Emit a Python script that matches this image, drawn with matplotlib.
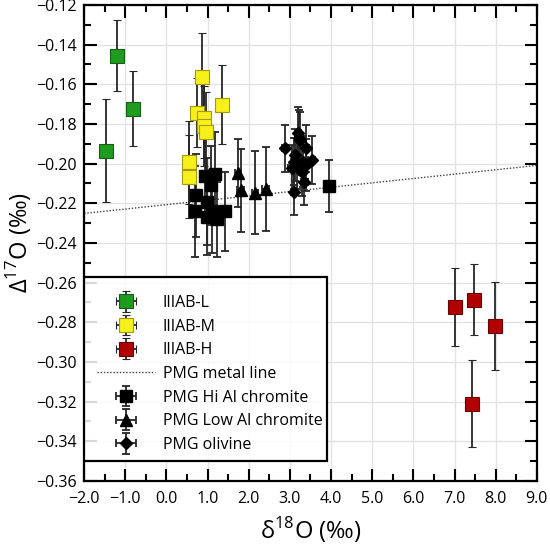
import matplotlib
matplotlib.use("Agg")
import matplotlib.pyplot as plt
from matplotlib.ticker import MultipleLocator, FuncFormatter
from matplotlib.legend_handler import HandlerErrorbar
from matplotlib.patches import Rectangle
import numpy as np

plt.rcParams['font.family'] = ['Open Sans', 'DejaVu Sans']
plt.rcParams['axes.unicode_minus'] = True

# IIIAB-L
L_x = [-1.47, -1.19, -0.81]
L_y = [-0.1935, -0.1456, -0.1723]
L_err = [0.026, 0.018, 0.019]

# IIIAB-M
M_x = [0.87, 1.36, 0.74, 0.91, 0.91, 0.95, 0.56, 0.56]
M_y = [-0.1562, -0.1703, -0.1743, -0.1772, -0.1810, -0.1839, -0.1993, -0.2066]
M_err = [0.022, 0.020, 0.0175, 0.020, 0.020, 0.020, 0.021, 0.021]

# IIIAB-H
H_x = [7.02, 7.47, 7.99, 7.42]
H_y = [-0.2723, -0.2686, -0.2819, -0.3211]
H_err = [0.0195, 0.018, 0.022, 0.022]

# PMG Hi Al chromite
HiAl_x = [0.71, 0.70, 0.94, 1.18, 1.08, 0.98, 0.99, 1.10, 1.24, 1.42, 3.96]
HiAl_y = [-0.2160, -0.2240, -0.2061, -0.2052, -0.2110, -0.2192, -0.2270, -0.2240, -0.2281, -0.2240, -0.2113]
HiAl_err = [0.021, 0.023, 0.021, 0.021, 0.020, 0.022, 0.019, 0.021, 0.019, 0.020, 0.013]

# PMG Low Al chromite
LoAl_x = [1.74, 1.80, 2.15, 2.41]
LoAl_y = [-0.2047, -0.2135, -0.2146, -0.2128]
LoAl_err = [0.017, 0.021, 0.021, 0.021]

# PMG olivine
Ol_x = [2.88, 3.20, 3.25, 3.39, 3.12, 3.10, 3.33, 3.53, 3.04, 3.39, 3.29, 3.35, 3.10, 3.22, 3.18]
Ol_y = [-0.1923, -0.1847, -0.1881, -0.1923, -0.1956, -0.1990, -0.1990, -0.1982, -0.2024,
        -0.2007, -0.2041, -0.2091, -0.2141, -0.1870, -0.2000]
Ol_err = [0.012, 0.013, 0.014, 0.012, 0.013, 0.012, 0.013, 0.012, 0.012,
          0.013, 0.012, 0.012, 0.012, 0.014, 0.013]

# PMG metal line
line_slope = 0.0022
line_intercept = -0.2207

X_ERR = 0.08

fig = plt.figure(figsize=(5.5, 5.5), dpi=100)
ax = fig.add_axes([0.153, 0.1255, 0.823, 0.8655])

ax.set_xlim(-2.0, 9.0)
ax.set_ylim(-0.36, -0.12)

ekw = dict(ecolor='#262626', elinewidth=1.3, capsize=3, capthick=1.3, linestyle='none')

line_xs = np.array(ax.get_xlim())
ln, = ax.plot(line_xs, line_intercept + line_slope * line_xs, linestyle=(0, (1, 1.3)),
              color='#444444', lw=1.0, zorder=2, label='PMG metal line')

hL = ax.errorbar(L_x, L_y, yerr=L_err, xerr=X_ERR, marker='s', ms=9.5, mfc='#1f9b1f', mec='#136013',
                 mew=0.8, label='IIIAB-L', zorder=3, **ekw)
hM = ax.errorbar(M_x, M_y, yerr=M_err, xerr=X_ERR, marker='s', ms=9.5, mfc='#f7f01a', mec='#a39a10',
                 mew=0.8, label='IIIAB-M', zorder=3, **ekw)
hH = ax.errorbar(H_x, H_y, yerr=H_err, xerr=X_ERR, marker='s', ms=9.5, mfc='#b00000', mec='#6a0000',
                 mew=0.8, label='IIIAB-H', zorder=3, **ekw)
hHi = ax.errorbar(HiAl_x, HiAl_y, yerr=HiAl_err, xerr=X_ERR, marker='s', ms=9, mfc='black', mec='black',
                  label='PMG Hi Al chromite', zorder=3, **ekw)
hLo = ax.errorbar(LoAl_x, LoAl_y, yerr=LoAl_err, xerr=X_ERR, marker='^', ms=8, mfc='black', mec='black',
                  label='PMG Low Al chromite', zorder=3, **ekw)
hOl = ax.errorbar(Ol_x, Ol_y, yerr=Ol_err, xerr=X_ERR, marker='D', ms=6.5, mfc='black', mec='black',
                  label='PMG olivine', zorder=3, **ekw)

ax.xaxis.set_major_locator(MultipleLocator(1.0))
ax.xaxis.set_minor_locator(MultipleLocator(0.5))
ax.yaxis.set_major_locator(MultipleLocator(0.02))
ax.yaxis.set_minor_locator(MultipleLocator(0.01))
ax.xaxis.set_major_formatter(FuncFormatter(lambda v, p: ('%.1f' % v).replace('-', '\u2212')))
ax.yaxis.set_major_formatter(FuncFormatter(lambda v, p: ('%.2f' % v).replace('-', '\u2212')))

ax.tick_params(which='both', direction='in', top=True, right=True, width=1.5, labelsize=11.5)
ax.tick_params(which='major', length=9)
ax.tick_params(which='minor', length=5)
ax.tick_params(axis='x', which='major', pad=7)
ax.tick_params(axis='y', which='major', pad=5)
for s in ax.spines.values():
    s.set_linewidth(1.6)

ax.grid(True, which='major', color='#e3e3e3', lw=1.0, zorder=0)
ax.set_axisbelow(True)

ax.set_xlabel('δ$^{\\mathregular{18}}$O (‰)', fontsize=17)
ax.set_ylabel('Δ$^{\\mathregular{17}}$O (‰)', fontsize=17)
ax.xaxis.set_label_coords(0.5, -0.072)
ax.yaxis.set_label_coords(-0.11, 0.5)

# legend box drawn as its own frame
frame = Rectangle((0.0, 0.042), 0.536, 0.3866, transform=ax.transAxes, facecolor='white',
                  alpha=0.85, edgecolor='none', zorder=4.5)
ax.add_patch(frame)
frame_edge = Rectangle((0.0, 0.042), 0.536, 0.3866, transform=ax.transAxes, facecolor='none',
                       edgecolor='black', lw=1.6, zorder=4.6)
ax.add_patch(frame_edge)

handles = [hL, hM, hH, ln, hHi, hLo, hOl]
labels = [h.get_label() for h in handles]
leg = ax.legend(handles, labels, loc='upper left', bbox_to_anchor=(0.0287, 0.391),
                borderaxespad=0, borderpad=0, fontsize=11.5, frameon=False,
                handlelength=3.6, handletextpad=0.5, labelspacing=0.48,
                handler_map={type(hL): HandlerErrorbar(xerr_size=0.65)})
leg.set_zorder(5)

fig.savefig('out.png', dpi=100)
